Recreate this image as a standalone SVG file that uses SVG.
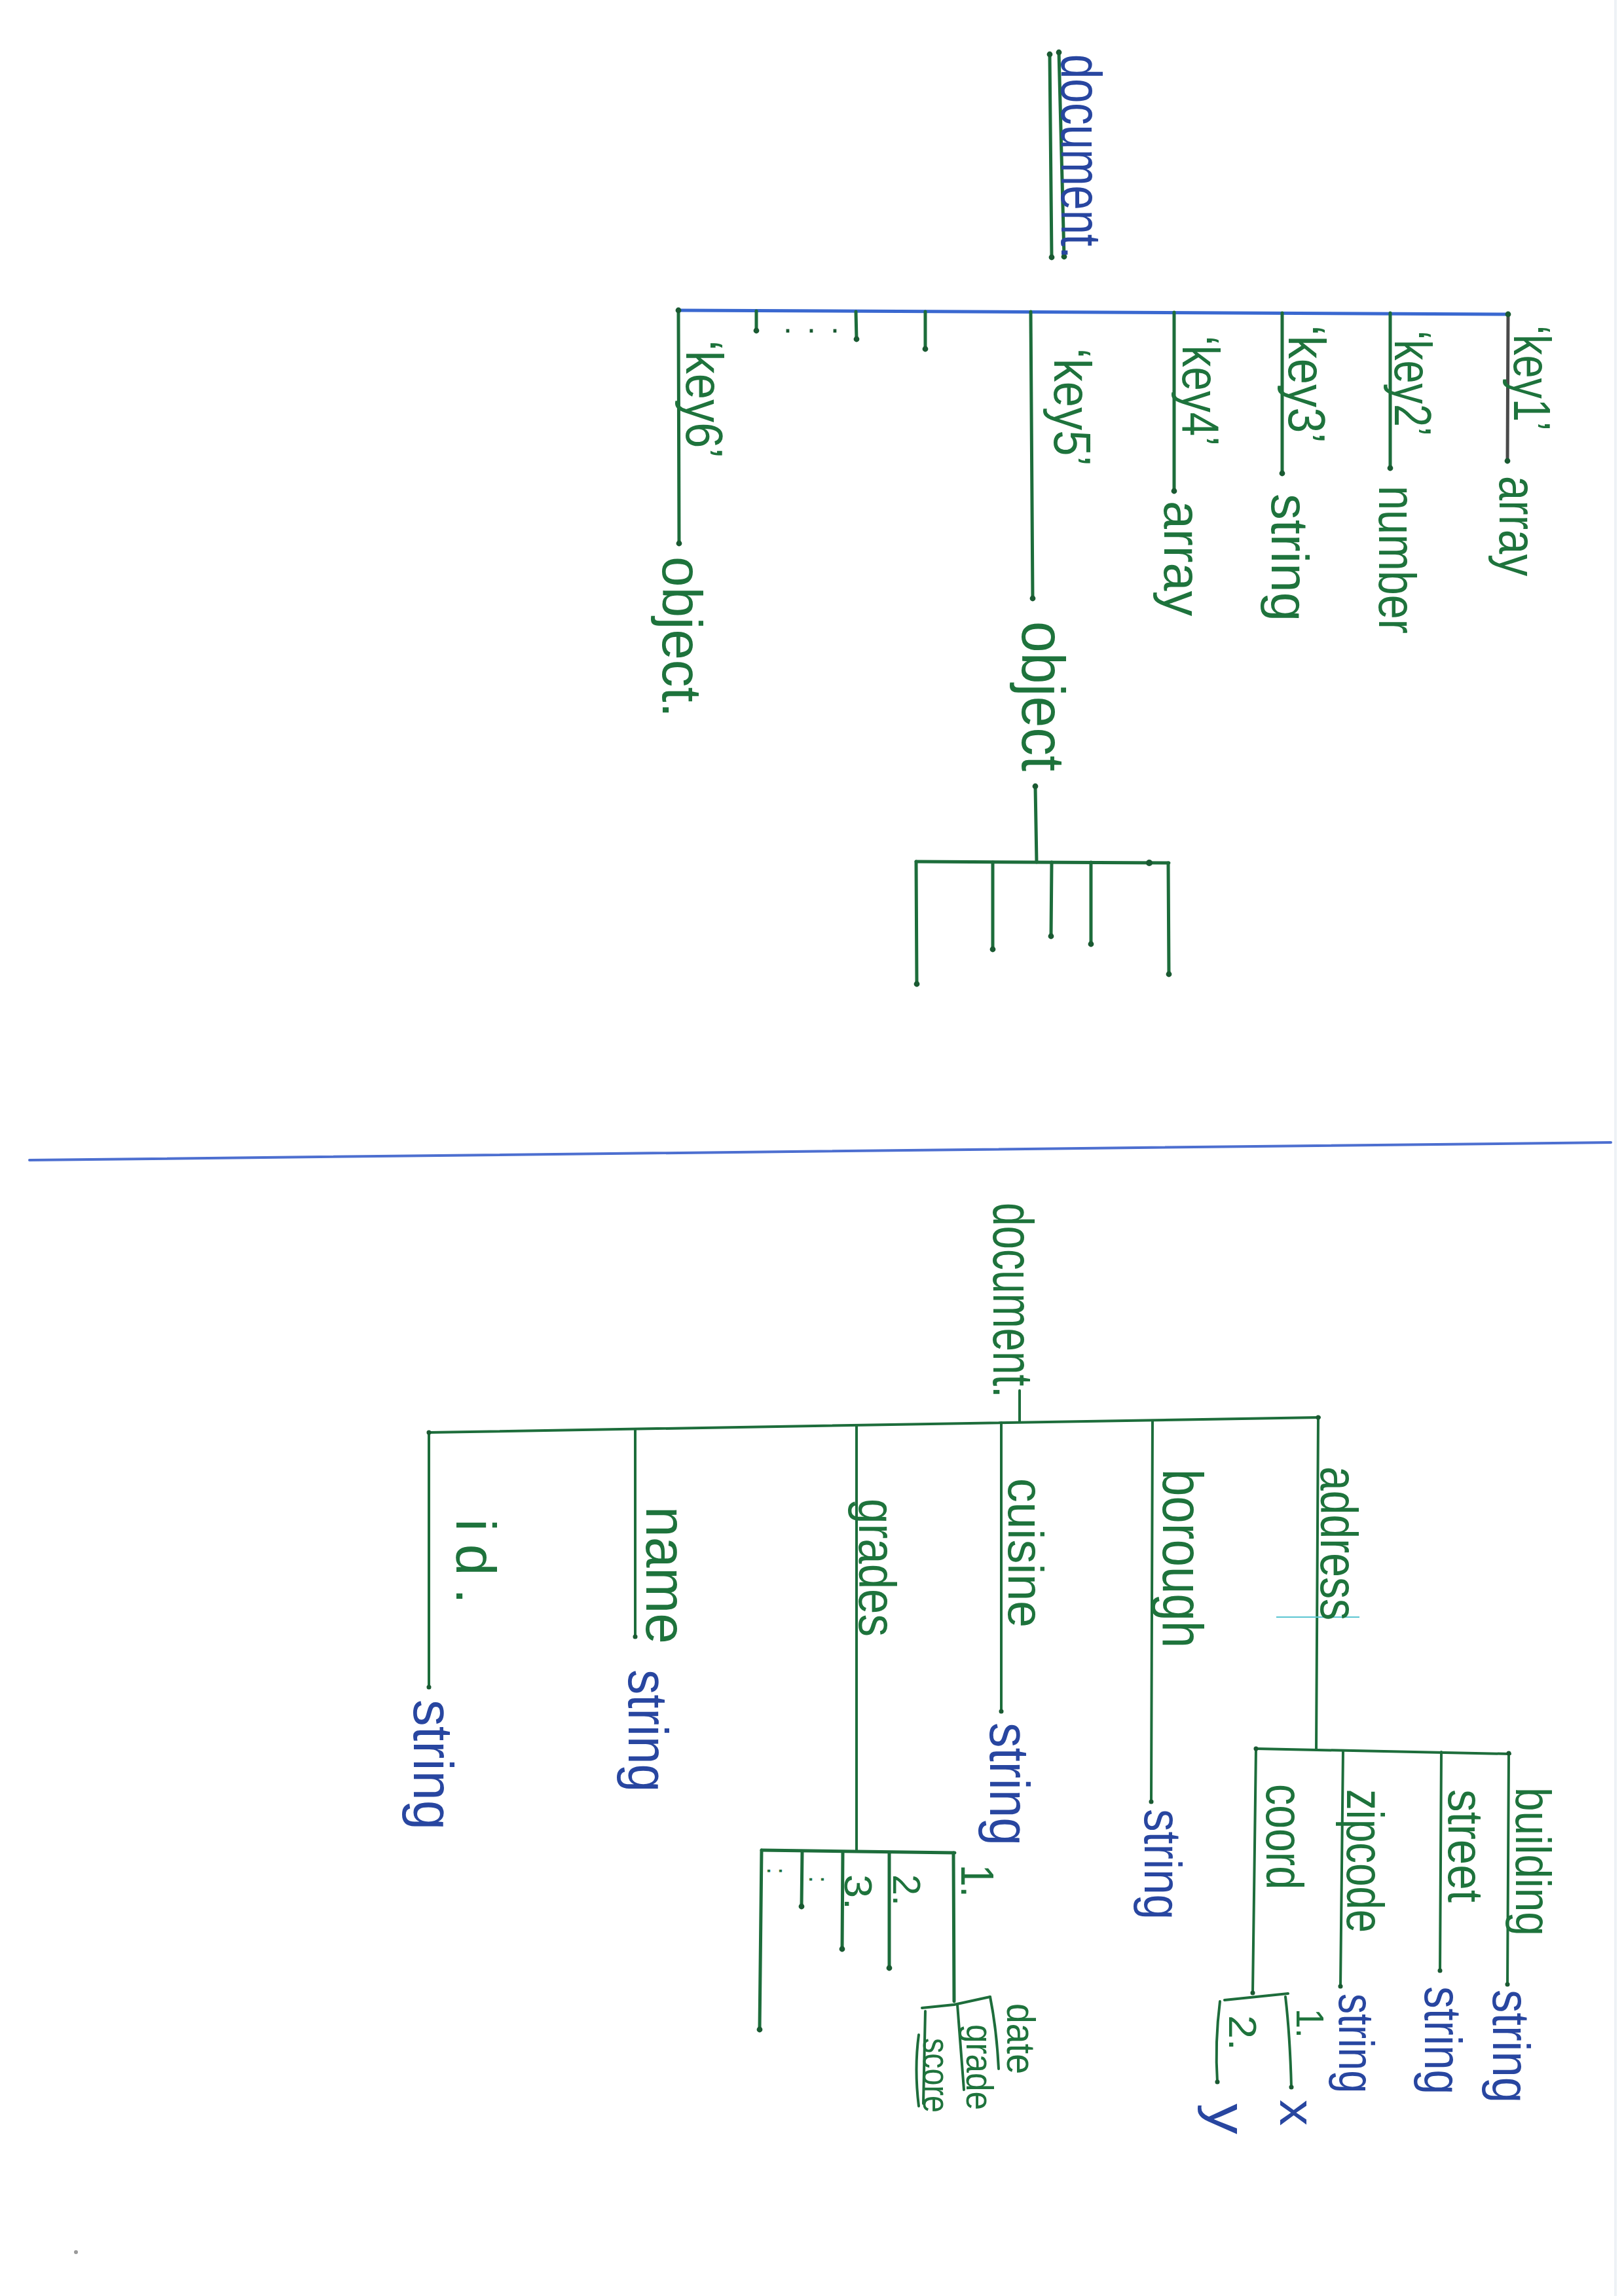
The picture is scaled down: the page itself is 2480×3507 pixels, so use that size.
<svg xmlns="http://www.w3.org/2000/svg" width="2480" height="3507" viewBox="0 0 2480 3507">
<style>
text{font-family:"Liberation Sans","DejaVu Sans",sans-serif;}
.g{fill:#1e733c}
.b{fill:#2846a0}
.ln{fill:none;stroke:#1d6d3b;stroke-width:5;stroke-linecap:round;stroke-linejoin:round}
.lt{fill:none;stroke:#1d6d3b;stroke-width:4;stroke-linecap:round;stroke-linejoin:round}
.bl{fill:none;stroke:#3a68d0;stroke-width:5;stroke-linecap:round}
</style>
<defs>
<marker id="d" viewBox="-5 -5 10 10" markerWidth="2.2" markerHeight="2.2" refX="0" refY="0" markerUnits="strokeWidth">
<circle r="4" fill="#1a5a32"/>
</marker>
</defs>
<rect width="2480" height="3507" fill="#ffffff"/>
<line x1="2467" y1="0" x2="2467" y2="3507" stroke="#eef2f6" stroke-width="4"/>
<circle cx="116" cy="3440" r="3" fill="#9a9a9a"/>

<g id="connectors">
<!-- upper tree -->
<path class="ln" d="M1603,83 L1606,393" marker-start="url(#d)" marker-end="url(#d)"/>
<path class="ln" d="M1617,80 L1625,392" marker-start="url(#d)" marker-end="url(#d)"/>
<path class="bl" d="M1036,474 L2303,480"/>
<path fill="none" stroke="#4a4a4a" stroke-width="5" stroke-linecap="round" d="M2303,480 L2302,704" marker-start="url(#d)" marker-end="url(#d)"/>
<path class="ln" d="M2123,478 L2123,715" marker-end="url(#d)"/>
<path class="ln" d="M1958,478 L1958,723" marker-end="url(#d)"/>
<path class="ln" d="M1793,477 L1793,750" marker-end="url(#d)"/>
<path class="ln" d="M1574,476 L1577,914" marker-end="url(#d)"/>
<path class="ln" d="M1413,476 L1413,533" marker-end="url(#d)"/>
<path class="ln" d="M1307,476 L1308,518" marker-end="url(#d)"/>
<path class="ln" d="M1155,475 L1155,505" marker-end="url(#d)"/>
<path class="ln" d="M1036,474 L1037,830" marker-start="url(#d)" marker-end="url(#d)"/>
<path class="ln" d="M1581,1201 L1583,1317" marker-start="url(#d)"/>
<path class="ln" d="M1399,1316 L1785,1318"/>
<path class="ln" d="M1399,1316 L1400,1503" marker-end="url(#d)"/>
<path class="ln" d="M1516,1317 L1516,1450" marker-end="url(#d)"/>
<path class="ln" d="M1606,1317 L1605,1430" marker-end="url(#d)"/>
<path class="ln" d="M1666,1317 L1666,1442" marker-end="url(#d)"/>
<path class="ln" d="M1784,1318 L1785,1488" marker-end="url(#d)"/>
<circle cx="1755" cy="1318" r="5" fill="#1a5a32"/>
<!-- separator -->
<path d="M45,1772 L2460,1745" fill="none" stroke="#4d6fd0" stroke-width="4" stroke-linecap="round"/>
<!-- lower tree -->
<path class="lt" d="M1557,2124 L1557,2172"/>
<path class="lt" d="M655,2188 L2015,2165"/>
<path class="lt" d="M2013,2165 L2010,2672" marker-start="url(#d)"/>
<path class="lt" d="M1760,2170 L1758,2752" marker-end="url(#d)"/>
<path class="lt" d="M1529,2173 L1529,2614" marker-end="url(#d)"/>
<path class="lt" d="M1308,2177 L1308,2828"/>
<path class="lt" d="M970,2183 L970,2500" marker-end="url(#d)"/>
<path class="lt" d="M655,2188 L655,2577" marker-start="url(#d)" marker-end="url(#d)"/>
<path d="M1949,2470 L2076,2470" fill="none" stroke="#5cc6d2" stroke-width="2"/>
<path class="lt" d="M1918,2671 L2306,2679"/>
<path class="lt" d="M1918,2671 L1913,3044" marker-start="url(#d)" marker-end="url(#d)"/>
<path class="lt" d="M2051,2674 L2047,3034" marker-end="url(#d)"/>
<path class="lt" d="M2201,2676 L2199,3010" marker-end="url(#d)"/>
<path class="lt" d="M2304,2678 L2302,3031" marker-start="url(#d)" marker-end="url(#d)"/>
<path class="lt" d="M1870,3055 L1967,3045"/>
<path class="lt" d="M1863,3057 Q1855,3120 1859,3180" marker-end="url(#d)"/>
<path class="lt" d="M1963,3050 Q1970,3110 1972,3188" marker-end="url(#d)"/>
<path class="ln" d="M1163,2826 L1458,2830"/>
<path class="ln" d="M1163,2826 L1160,3100" marker-end="url(#d)"/>
<path class="ln" d="M1225,2828 L1224,2912" marker-end="url(#d)"/>
<path class="ln" d="M1287,2829 L1286,2977" marker-end="url(#d)"/>
<path class="ln" d="M1358,2830 L1358,3006" marker-end="url(#d)"/>
<path class="ln" d="M1456,2830 L1457,3057"/>
<path class="lt" d="M1408,3067 L1457,3062 L1512,3050"/>
<path class="lt" d="M1512,3050 Q1522,3100 1525,3160"/>
<path class="lt" d="M1462,3062 L1472,3192"/>
<path class="lt" d="M1413,3072 L1410,3213"/>
<path class="lt" d="M1403,3108 Q1396,3160 1403,3217"/>
</g>

<g id="upper-document">
<text class="b" x="1621" y="83" font-size="88" transform="rotate(90 1621 83)" textLength="312" lengthAdjust="spacingAndGlyphs">document.</text>
</g>
<g id="key1">
<text class="g" x="2312" y="497" font-size="80" transform="rotate(90 2312 497)" textLength="161" lengthAdjust="spacingAndGlyphs">‘key1’</text>
<text class="g" x="2290" y="727" font-size="80" transform="rotate(90 2290 727)" textLength="153" lengthAdjust="spacingAndGlyphs">array</text>
</g>
<g id="key2">
<text class="g" x="2130" y="505" font-size="80" transform="rotate(90 2130 505)" textLength="161" lengthAdjust="spacingAndGlyphs">‘key2’</text>
<text class="g" x="2106" y="742" font-size="80" transform="rotate(90 2106 742)" textLength="226" lengthAdjust="spacingAndGlyphs">number</text>
</g>
<g id="key3">
<text class="g" x="1968" y="497" font-size="80" transform="rotate(90 1968 497)" textLength="180" lengthAdjust="spacingAndGlyphs">‘key3’</text>
<text class="g" x="1942" y="754" font-size="80" transform="rotate(90 1942 754)" textLength="195" lengthAdjust="spacingAndGlyphs">string</text>
</g>
<g id="key4">
<text class="g" x="1806" y="513" font-size="80" transform="rotate(90 1806 513)" textLength="168" lengthAdjust="spacingAndGlyphs">‘key4’</text>
<text class="g" x="1778" y="765" font-size="80" transform="rotate(90 1778 765)" textLength="176" lengthAdjust="spacingAndGlyphs">array</text>
</g>
<g id="key5">
<text class="g" x="1610" y="532" font-size="80" transform="rotate(90 1610 532)" textLength="180" lengthAdjust="spacingAndGlyphs">‘key5’</text>
<text class="g" x="1561" y="949" font-size="92" transform="rotate(90 1561 949)" textLength="229" lengthAdjust="spacingAndGlyphs">object</text>
</g>
<g id="ellipsis">
<text class="g" x="1196" y="508" font-size="50" textLength="86" lengthAdjust="spacing" style="fill:#1a5a32">...</text>
</g>
<g id="key6">
<text class="g" x="1048" y="520" font-size="80" transform="rotate(90 1048 520)" textLength="180" lengthAdjust="spacingAndGlyphs">‘key6’</text>
<text class="g" x="1012" y="850" font-size="86" transform="rotate(90 1012 850)" textLength="246" lengthAdjust="spacingAndGlyphs">object.</text>
</g>

<g id="lower-document">
<text class="g" x="1517" y="1837" font-size="88" transform="rotate(90 1517 1837)" textLength="298" lengthAdjust="spacingAndGlyphs">document.</text>
</g>
<g id="address">
<text class="g" x="2017" y="2240" font-size="80" transform="rotate(90 2017 2240)" textLength="235" lengthAdjust="spacingAndGlyphs">address</text>
</g>
<g id="building">
<text class="g" x="2315" y="2730" font-size="76" transform="rotate(90 2315 2730)" textLength="227" lengthAdjust="spacingAndGlyphs">building</text>
<text class="b" x="2280" y="3039" font-size="80" transform="rotate(90 2280 3039)" textLength="173" lengthAdjust="spacingAndGlyphs">string</text>
</g>
<g id="street">
<text class="g" x="2212" y="2733" font-size="76" transform="rotate(90 2212 2733)" textLength="173" lengthAdjust="spacingAndGlyphs">street</text>
<text class="b" x="2176" y="3034" font-size="80" transform="rotate(90 2176 3034)" textLength="165" lengthAdjust="spacingAndGlyphs">string</text>
</g>
<g id="zipcode">
<text class="g" x="2057" y="2733" font-size="80" transform="rotate(90 2057 2733)" textLength="219" lengthAdjust="spacingAndGlyphs">zipcode</text>
<text class="b" x="2045" y="3045" font-size="76" transform="rotate(90 2045 3045)" textLength="152" lengthAdjust="spacingAndGlyphs">string</text>
</g>
<g id="coord">
<text class="g" x="1934" y="2725" font-size="80" transform="rotate(90 1934 2725)" textLength="161" lengthAdjust="spacingAndGlyphs">coord</text>
<text class="g" x="1980" y="3068" font-size="60" transform="rotate(90 1980 3068)" textLength="45" lengthAdjust="spacingAndGlyphs">1.</text>
<text class="g" x="1877" y="3078" font-size="60" transform="rotate(90 1877 3078)" textLength="54" lengthAdjust="spacingAndGlyphs">2.</text>
<text class="b" x="1955" y="3207" font-size="76" transform="rotate(90 1955 3207)" textLength="40" lengthAdjust="spacingAndGlyphs">x</text>
<text class="b" x="1846" y="3213" font-size="82" transform="rotate(90 1846 3213)" textLength="47" lengthAdjust="spacingAndGlyphs">y</text>
</g>
<g id="borough">
<text class="g" x="1776" y="2244" font-size="88" transform="rotate(90 1776 2244)" textLength="273" lengthAdjust="spacingAndGlyphs">borough</text>
<text class="b" x="1748" y="2763" font-size="80" transform="rotate(90 1748 2763)" textLength="169" lengthAdjust="spacingAndGlyphs">string</text>
</g>
<g id="cuisine">
<text class="g" x="1540" y="2258" font-size="76" transform="rotate(90 1540 2258)" textLength="228" lengthAdjust="spacingAndGlyphs">cuisine</text>
<text class="b" x="1512" y="2631" font-size="86" transform="rotate(90 1512 2631)" textLength="188" lengthAdjust="spacingAndGlyphs">string</text>
</g>
<g id="grades">
<text class="g" x="1312" y="2289" font-size="80" transform="rotate(90 1312 2289)" textLength="211" lengthAdjust="spacingAndGlyphs">grades</text>
<text class="g" x="1468" y="2848" font-size="70" transform="rotate(90 1468 2848)" textLength="50" lengthAdjust="spacingAndGlyphs">1.</text>
<text class="g" x="1364" y="2863" font-size="60" transform="rotate(90 1364 2863)" textLength="48" lengthAdjust="spacingAndGlyphs">2.</text>
<text class="g" x="1290" y="2863" font-size="60" transform="rotate(90 1290 2863)" textLength="54" lengthAdjust="spacingAndGlyphs">3.</text>
<text class="g" x="1236" y="2865" font-size="40" transform="rotate(90 1236 2865)">:</text>
<text class="g" x="1172" y="2852" font-size="40" transform="rotate(90 1172 2852)">:</text>
<text class="g" x="1538" y="3060" font-size="62" transform="rotate(90 1538 3060)" textLength="108" lengthAdjust="spacingAndGlyphs">date</text>
<text class="g" x="1476" y="3092" font-size="58" transform="rotate(90 1476 3092)" textLength="131" lengthAdjust="spacingAndGlyphs">grade</text>
<text class="g" x="1410" y="3113" font-size="58" transform="rotate(90 1410 3113)" textLength="114" lengthAdjust="spacingAndGlyphs">score</text>
</g>
<g id="name">
<text class="g" x="987" y="2301" font-size="88" transform="rotate(90 987 2301)" textLength="210" lengthAdjust="spacingAndGlyphs">name</text>
<text class="b" x="960" y="2550" font-size="86" transform="rotate(90 960 2550)" textLength="187" lengthAdjust="spacingAndGlyphs">string</text>
</g>
<g id="id">
<text class="g" x="697" y="2320" font-size="86" transform="rotate(90 697 2320)" textLength="130" lengthAdjust="spacing">id.</text>
<text class="b" x="632" y="2596" font-size="86" transform="rotate(90 632 2596)" textLength="199" lengthAdjust="spacingAndGlyphs">string</text>
</g>
</svg>
